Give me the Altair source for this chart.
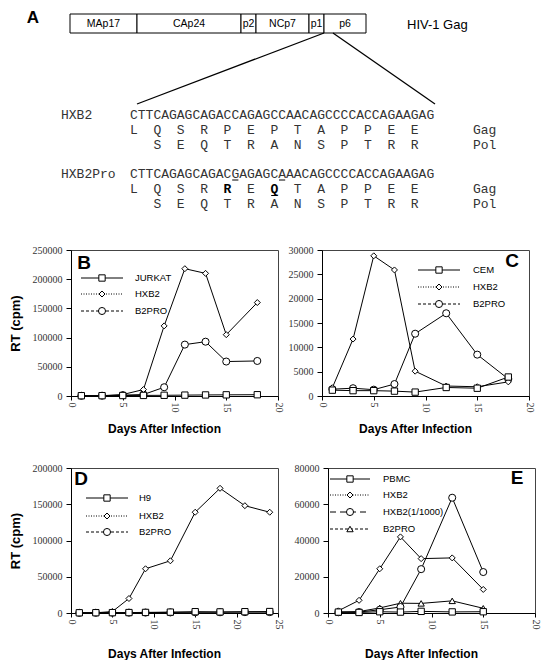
import altair as alt
import pandas as pd

# ---------------- Panel A data ----------------
gag_names = ["MAp17", "CAp24", "p2", "NCp7", "p1", "p6"]
gag_edges = [-1, 66, 170, 185, 238, 253, 295]          # schematic, not to scale
seq_names = ["HXB2", "HXB2Pro"]
seq_nt = ["CTTCAGAGCAGACCAGAGCCAACAGCCCCACCAGAAGAG",
          "CTTCAGAGCAGACGAGAGCAAACAGCCCCACCAGAAGAG"]
seq_gag = ["LQSRPEPTAPPEE", "LQSRREQTAPPEE"]
seq_pol = ["SEQTRANSPTRR", "SEQTRANSPTRR"]
nt_underlined = [13, 19]
gag_bold = [4, 6]
gag_underlined = [6]

# ---------------- Panels B-E data ----------------
b_days = [1, 3, 5, 7, 9, 11, 13, 15, 18]
b_jurkat = [500, 600, 800, 1000, 1200, 1500, 1800, 2000, 2200]
b_hxb2 = [300, 500, 2500, 11000, 120000, 218000, 210000, 105000, 160000]
b_b2pro = [300, 500, 1500, 2500, 15000, 88000, 93000, 59000, 60000]

c_days = [1, 3, 5, 7, 9, 12, 15, 18]
c_cem = [1200, 1100, 1100, 1000, 800, 1750, 1600, 3900]
c_hxb2 = [1700, 11700, 28800, 25900, 5100, 2050, 1900, 2900]
c_b2pro = [1400, 1600, 1300, 2450, 12800, 17000, 8500, 3500]

d_days = [1, 3, 5, 7, 9, 12, 15, 18, 21, 24]
d_h9 = [300, 400, 500, 600, 800, 1200, 1800, 1500, 1800, 2000]
d_hxb2 = [200, 300, 2000, 20000, 61000, 72000, 139000, 172000, 148000, 139000]
d_b2pro = [200, 300, 400, 500, 600, 800, 1000, 1000, 1200, 1200]

e_days = [1, 3, 5, 7, 9, 12, 15]
e_pbmc = [500, 300, 700, 500, 900, 600, 700]
e_hxb2 = [1200, 7000, 24400, 42000, 30000, 30400, 13000]
e_hxb2_1000 = [400, 500, 1800, 3300, 24200, 63600, 22600]
e_b2pro = [500, 800, 2800, 5400, 5300, 6700, 2600]

SANS = "Liberation Sans"
SERIF = "Liberation Serif"
MONO = "Liberation Mono"

# ---------------- Panel A chart ----------------
A_W, A_H = 470, 206
BAR_TOP, BAR_BOT = 4, 23
SEQ_X0, CW = 59, 7.8
NT_Y = [105, 164]
GAG_Y = [120, 179]
POL_Y = [135, 194]

sxA = alt.Scale(domain=[0, A_W], nice=False, zero=False)
syA = alt.Scale(domain=[A_H, 0], nice=False, zero=False)


def AX(f):
    return alt.X(f, type="quantitative", scale=sxA, axis=None)


def AY(f):
    return alt.Y(f, type="quantitative", scale=syA, axis=None)


seg_df = pd.DataFrame({
    "name": gag_names,
    "x0": gag_edges[:-1],
    "x1": gag_edges[1:],
})
seg_df["xm"] = (seg_df["x0"] + seg_df["x1"]) / 2
seg_df["y0"] = BAR_TOP
seg_df["y1"] = BAR_BOT
seg_df["ym"] = (BAR_TOP + BAR_BOT) / 2 + 0.5

rects = alt.Chart(seg_df).mark_rect(fill="white", stroke="black", strokeWidth=1).encode(
    x=AX("x0"), x2="x1", y=AY("y0"), y2="y1")
seg_text = alt.Chart(seg_df).mark_text(font=SANS, fontSize=10.5, baseline="middle", align="center",
                                       color="black").encode(x=AX("xm"), y=AY("ym"), text="name:N")

misc_df = pd.DataFrame({"t": ["HIV-1 Gag"], "x": [336], "y": [15]})
gag_title = alt.Chart(misc_df).mark_text(font=SANS, fontSize=13, align="left", baseline="middle",
                                         color="black").encode(x=AX("x"), y=AY("y"), text="t:N")
letA_df = pd.DataFrame({"t": ["A"], "x": [-38], "y": [8]})
letA = alt.Chart(letA_df).mark_text(font=SANS, fontSize=17, fontWeight="bold", align="center",
                                    baseline="middle", color="black").encode(x=AX("x"), y=AY("y"), text="t:N")

zoom_df = pd.DataFrame({"x": [253, 262], "y": [BAR_BOT, BAR_BOT], "x2": [66, 364], "y2": [94, 94]})
zoom_lines = alt.Chart(zoom_df).mark_rule(color="black", strokeWidth=1.3).encode(
    x=AX("x"), y=AY("y"), x2="x2", y2="y2")

lab_rows = []
for r in range(2):
    lab_rows.append(dict(t=seq_names[r], x=-10, y=NT_Y[r]))
    lab_rows.append(dict(t="Gag", x=402, y=GAG_Y[r]))
    lab_rows.append(dict(t="Pol", x=402, y=POL_Y[r]))
lab_df = pd.DataFrame(lab_rows)
seq_labels = alt.Chart(lab_df).mark_text(font=MONO, fontSize=13, align="left", baseline="middle",
                                         color="#333").encode(x=AX("x"), y=AY("y"), text="t:N")

chars = []
for r in range(2):
    for i, c in enumerate(seq_nt[r]):
        chars.append(dict(x=SEQ_X0 + (i + 0.5) * CW, y=NT_Y[r], ch=c, bold=False))
    for k, c in enumerate(seq_gag[r]):
        chars.append(dict(x=SEQ_X0 + (3 * k + 0.5) * CW, y=GAG_Y[r], ch=c,
                          bold=(r == 1 and k in gag_bold)))
    for j, c in enumerate(seq_pol[r]):
        chars.append(dict(x=SEQ_X0 + (3 * j + 3.5) * CW, y=POL_Y[r], ch=c, bold=False))
ch_df = pd.DataFrame(chars)
chars_norm = alt.Chart(ch_df[~ch_df["bold"]]).mark_text(
    font=MONO, fontSize=13, align="center", baseline="middle", color="#333").encode(
    x=AX("x"), y=AY("y"), text="ch:N")
chars_bold = alt.Chart(ch_df[ch_df["bold"]]).mark_text(
    font=MONO, fontSize=13, fontWeight="bold", align="center", baseline="middle", color="black").encode(
    x=AX("x"), y=AY("y"), text="ch:N")

ul = []
for i in nt_underlined:
    ul.append(dict(x=SEQ_X0 + i * CW + 0.8, x2=SEQ_X0 + (i + 1) * CW - 0.8, y=NT_Y[1] + 6))
for k in gag_underlined:
    ul.append(dict(x=SEQ_X0 + 3 * k * CW + 0.8, x2=SEQ_X0 + (3 * k + 1) * CW - 0.8, y=GAG_Y[1] + 6.5))
ul_df = pd.DataFrame(ul)
underlines = alt.Chart(ul_df).mark_rule(color="black", strokeWidth=1).encode(
    x=AX("x"), x2="x2", y=AY("y"))

panel_a = alt.layer(rects, seg_text, gag_title, letA, zoom_lines, seq_labels, chars_norm,
                    chars_bold, underlines).properties(
    width=A_W, height=A_H, view=alt.ViewBackground(fill="white", stroke="transparent"))


# ---------------- Panels B-E ----------------
def panel(days, names, values, shapes, sizes, dashes, x_max, y_max, y_step, w, h,
          letter, letter_px, leg_x, leg_rows, y_title, y_tpad, x_tpad):
    sx = alt.Scale(domain=[0, x_max], nice=False, zero=False)
    sy = alt.Scale(domain=[0, y_max], nice=False)
    xa = alt.Axis(values=list(range(0, x_max + 1, 5)), format="d", labelAngle=90,
                  labelFont=SERIF, labelFontSize=10, labelColor="#333", tickSize=4,
                  tickColor="black", domainColor="black", labelPadding=2, grid=False,
                  title="Days After Infection", titleFont=SANS, titleFontSize=12,
                  titleFontWeight="bold", titleColor="black", titleX=93, titleAlign="center",
                  titlePadding=x_tpad, labelFlush=False, labelOverlap=False)
    ya = alt.Axis(values=list(range(0, y_max + 1, y_step)), format="d",
                  labelFont=SERIF, labelFontSize=10, labelColor="#333", tickSize=5,
                  tickColor="black", domainColor="black", labelPadding=4, grid=False,
                  title="RT (cpm)" if y_title else None, titleFont=SANS, titleFontSize=13,
                  titleFontWeight="bold", titleColor="black", titlePadding=y_tpad)

    def X(f):
        return alt.X(f, type="quantitative", scale=sx, axis=xa)

    def Y(f):
        return alt.Y(f, type="quantitative", scale=sy, axis=ya)

    series = []
    for name, vals in zip(names, values):
        series.append(pd.DataFrame({"series": name, "day": days, "rt": vals}))

    line_layers = []
    point_layers = []
    # first-listed series (uninfected cells) drawn last, on top
    for df, shp, sz in reversed(list(zip(series, shapes, sizes))):
        line_layers.append(alt.Chart(df).mark_line(color="black", strokeWidth=1).encode(
            x=X("day"), y=Y("rt")))
        point_layers.append(alt.Chart(df).mark_point(
            shape=shp, size=sz, filled=True, fill="white", stroke="black", strokeWidth=1,
            opacity=1).encode(x=X("day"), y=Y("rt")))

    leg = pd.DataFrame({"series": names})
    leg["ly"] = [y_max * (1 - r / h) for r in leg_rows]
    leg["x1"] = leg_x[0] * x_max / w
    leg["x2"] = leg_x[1] * x_max / w
    leg["xm"] = leg_x[2] * x_max / w
    leg["xt"] = leg_x[3] * x_max / w
    leg_layers = []
    for i, (shp, sz, dash) in enumerate(zip(shapes, sizes, dashes)):
        row = leg.iloc[[i]]
        leg_layers.append(alt.Chart(row).mark_rule(color="black", strokeWidth=1,
                                                   strokeDash=dash).encode(
            x=X("x1"), x2="x2", y=Y("ly")))
        leg_layers.append(alt.Chart(row).mark_point(
            shape=shp, size=sz, filled=True, fill="white", stroke="black", strokeWidth=1,
            opacity=1).encode(x=X("xm"), y=Y("ly")))
    leg_txt = alt.Chart(leg).mark_text(font=SANS, fontSize=9.5, align="left", baseline="middle",
                                       color="black").encode(x=X("xt"), y=Y("ly"), text="series:N")

    let_df = pd.DataFrame({"t": [letter], "x": [letter_px[0] * x_max / w],
                           "y": [y_max * (1 - letter_px[1] / h)]})
    let = alt.Chart(let_df).mark_text(font=SANS, fontSize=19, fontWeight="bold", align="center",
                                      baseline="middle", color="black").encode(
        x=X("x"), y=Y("y"), text="t:N")

    return alt.layer(*line_layers, *point_layers, *leg_layers, leg_txt, let).properties(
        width=w, height=h)


sh3 = ["square", "diamond", "circle"]
sz3 = [40, 36, 50]
ds3 = [[1, 0], [1, 1.5], [3, 2]]

panel_b = panel(b_days, ["JURKAT", "HXB2", "B2PRO"], [b_jurkat, b_hxb2, b_b2pro], sh3, sz3, ds3,
                20, 250000, 50000, 207, 146, "B", (13, 13), (10, 52, 31, 64), [28, 44, 61],
                True, 10, 11)
panel_c = panel(c_days, ["CEM", "HXB2", "B2PRO"], [c_cem, c_hxb2, c_b2pro], sh3, sz3, ds3,
                20, 30000, 5000, 207, 146, "C", (190, 11), (96, 138, 117, 151), [20, 37, 54],
                False, 10, 11)
panel_d = panel(d_days, ["H9", "HXB2", "B2PRO"], [d_h9, d_hxb2, d_b2pro], sh3, sz3, ds3,
                25, 200000, 50000, 207, 145, "D", (10, 11), (15, 57, 36, 68), [30, 48, 64],
                True, 10, 19)
panel_e = panel(e_days, ["PBMC", "HXB2", "HXB2(1/1000)", "B2PRO"],
                [e_pbmc, e_hxb2, e_hxb2_1000, e_b2pro],
                ["square", "diamond", "circle", "triangle-up"], [40, 36, 50, 40],
                [[1, 0], [1, 1.5], [6, 4], [3, 2]],
                20, 80000, 20000, 207, 145, "E", (189, 10), (2, 42, 22, 55), [11, 27, 44, 61],
                False, 10, 19)

row1 = alt.hconcat(panel_b, panel_c, spacing=44, bounds="flush")
row2 = alt.hconcat(panel_d, panel_e, spacing=50, bounds="flush")

chart = alt.vconcat(panel_a, row1, row2, spacing=27).properties(
    padding={"left": 0, "top": 0, "right": 0, "bottom": 0}, background="white"
).configure_view(stroke="#444", strokeWidth=1)

chart.save("out.html", embed_options={"renderer": "svg", "actions": False})
